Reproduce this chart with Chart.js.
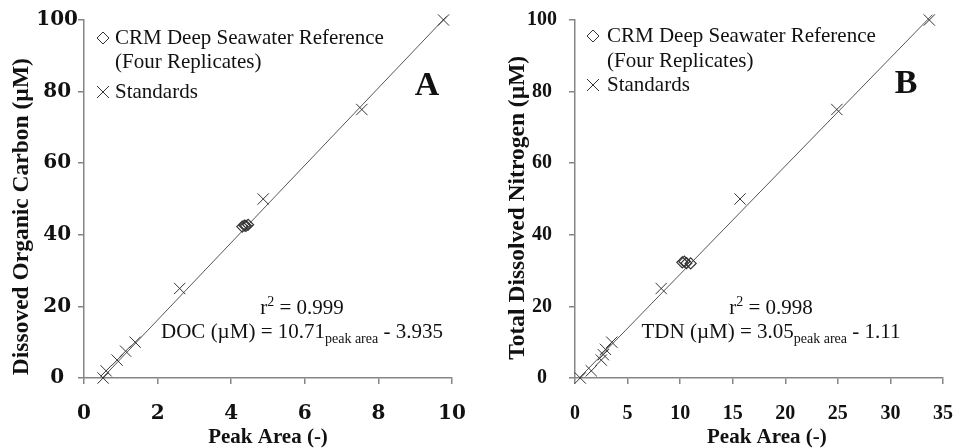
<!DOCTYPE html>
<html><head><meta charset="utf-8">
<script src="https://cdn.jsdelivr.net/npm/chart.js@4"></script>
<style>
html,body{margin:0;padding:0;background:#fff;}
#wrap{position:relative;width:955px;height:448px;overflow:hidden;}
#c1{position:absolute;left:0;top:0;}
#c2{position:absolute;left:475px;top:0;}
</style></head><body>
<div id="wrap"><canvas id="c1" width="475" height="448"></canvas><canvas id="c2" width="480" height="448"></canvas></div>
<script>
// ---------- DATA ----------
const yTicks = [0, 20, 40, 60, 80, 100];
const docXTicks = [0, 2, 4, 6, 8, 10];
const tdnXTicks = [0, 5, 10, 15, 20, 25, 30, 35];

// Panel A (DOC)
const docStdX = [0.52, 0.60, 0.90, 1.13, 1.39, 2.60, 4.87, 7.55, 9.77];
const docStdY = [0, 2, 5, 7.5, 10, 25, 50, 75, 100];
const docCrmX = [4.30, 4.36, 4.40, 4.46];
const docCrmY = [42.3, 42.6, 42.5, 42.8];
const docFitX = [0.50, 9.85];
const docFitY = [0, 101];

// Panel B (TDN)
const tdnStdX = [0.5, 1.55, 2.5, 2.7, 2.9, 3.5, 8.2, 15.7, 24.9, 33.7];
const tdnStdY = [0, 2, 5, 6.5, 8, 10, 25, 50, 75, 100];
const tdnCrmX = [10.2, 10.4, 10.6, 11.0];
const tdnCrmY = [32.3, 32.5, 32.1, 32.0];
const tdnFitX = [0.40, 34.0];
const tdnFitY = [0, 101.5];

const legendLabels = ['CRM Deep Seawater Reference', '(Four Replicates)', 'Standards'];
const NB = '\u00A0';

// ---------- HELPERS ----------
const pts = (xs, ys) => xs.map((x, i) => ({x: x, y: ys[i]}));
const SERIF = "'Liberation Serif', 'Times New Roman', serif";

function drawRuns(ctx, runs, cx, baseline) {
  let total = 0;
  runs.forEach(r => { ctx.font = r.s + 'px ' + SERIF; r.w = ctx.measureText(r.t).width; total += r.w; });
  let x = cx - total / 2;
  ctx.textAlign = 'left';
  ctx.textBaseline = 'alphabetic';
  runs.forEach(r => {
    ctx.font = r.s + 'px ' + SERIF;
    ctx.fillStyle = '#111';
    ctx.fillText(r.t, x, baseline + (r.dy || 0));
    x += r.w;
  });
}

function annotPlugin(a) {
  return {
    id: 'annot',
    afterDraw(chart) {
      const ctx = chart.ctx;
      ctx.save();
      ctx.strokeStyle = '#333';
      ctx.lineWidth = 1;
      const d = 6;
      ctx.beginPath();
      ctx.moveTo(a.symX, a.rows[0] - d); ctx.lineTo(a.symX + d, a.rows[0]);
      ctx.lineTo(a.symX, a.rows[0] + d); ctx.lineTo(a.symX - d, a.rows[0]); ctx.closePath();
      ctx.stroke();
      ctx.beginPath();
      ctx.moveTo(a.symX - d, a.rows[2] - d); ctx.lineTo(a.symX + d, a.rows[2] + d);
      ctx.moveTo(a.symX + d, a.rows[2] - d); ctx.lineTo(a.symX - d, a.rows[2] + d);
      ctx.stroke();
      ctx.fillStyle = '#111';
      ctx.font = '21px ' + SERIF;
      ctx.textAlign = 'left';
      ctx.textBaseline = 'middle';
      legendLabels.forEach((t, i) => ctx.fillText(t, a.textX, a.rows[i]));
      ctx.font = 'bold 34px ' + SERIF;
      ctx.textAlign = 'center';
      ctx.fillText(a.letter, a.letterX, a.letterY);
      drawRuns(ctx, [{t: 'r', s: 21}, {t: '2', s: 14, dy: -8}, {t: ' = ' + a.r2, s: 21}], a.eqX, 314);
      drawRuns(ctx, [{t: a.eqLeft, s: 21}, {t: 'peak area', s: 14, dy: 5}, {t: a.eqRight, s: 21}], a.eqX, 338);
      ctx.restore();
    }
  };
}

function makeChart(id, o) {
  return new Chart(document.getElementById(id), {
    type: 'scatter',
    data: {
      datasets: [
        {label: 'fit', type: 'line', data: pts(o.fitX, o.fitY), borderColor: '#555', borderWidth: 1,
         pointRadius: 0, fill: false, clip: false, order: 3},
        {label: 'CRM Deep Seawater Reference (Four Replicates)', data: pts(o.crmX, o.crmY),
         pointStyle: 'rectRot', pointRadius: 5.5, pointBorderColor: '#333', pointBackgroundColor: 'rgba(0,0,0,0)',
         pointBorderWidth: 1.2, clip: false, order: 1},
        {label: 'Standards', data: pts(o.stdX, o.stdY),
         pointStyle: 'crossRot', pointRadius: 8, pointBorderColor: '#333', pointBorderWidth: 1, clip: false, order: 2}
      ]
    },
    options: {
      responsive: false,
      animation: false,
      devicePixelRatio: 1,
      layout: {padding: {left: 0, top: 20, right: o.padRight, bottom: 0}},
      plugins: {legend: {display: false}, tooltip: {enabled: false}},
      scales: {
        x: {
          type: 'linear', min: o.xTicks[0], max: o.xTicks[o.xTicks.length - 1],
          afterBuildTicks: s => { s.ticks = o.xTicks.map(v => ({value: v})); },
          afterFit: s => { s.height = 70; s.paddingLeft = 0; s.paddingRight = 0; },
          grid: {display: true, drawOnChartArea: false, drawTicks: true, tickLength: 6, color: '#858585', lineWidth: 1.5},
          border: {display: true, color: '#858585', width: 1.5},
          ticks: {color: '#111', padding: 18, maxRotation: 0, font: o.tickFont},
          title: {display: true, text: o.xTitle, color: '#111', padding: {top: 0, bottom: 0},
                  font: {family: SERIF, size: 21, weight: 'bold', lineHeight: 1}}
        },
        y: {
          type: 'linear', min: 0, max: 100,
          afterBuildTicks: s => { s.ticks = yTicks.map(v => ({value: v})); },
          afterFit: s => { s.width = o.yWidth; s.paddingTop = 0; s.paddingBottom = 0; },
          grid: {display: true, drawOnChartArea: false, drawTicks: true, tickLength: 6, color: '#858585', lineWidth: 1.5},
          border: {display: true, color: '#858585', width: 1.5},
          ticks: {color: '#111', padding: o.yPad, crossAlign: 'center', font: o.tickFont},
          title: {display: true, text: o.yTitle, color: '#111', padding: {top: o.yTitlePad, bottom: 0},
                  font: {family: SERIF, size: 23.5, weight: 'bold', lineHeight: 1}}
        }
      }
    },
    plugins: [annotPlugin(o.annot)]
  });
}

makeChart('c1', {
  stdX: docStdX, stdY: docStdY, crmX: docCrmX, crmY: docCrmY, fitX: docFitX, fitY: docFitY,
  xTicks: docXTicks, padRight: 23, yWidth: 84, yPad: 0, yTitlePad: 10,
  tickFont: {family: "'DejaVu Serif', serif", size: 20, weight: 'bold'},
  xTitle: 'Peak Area (-)',
  yTitle: 'Dissoved Organic Carbon (µM)' + NB.repeat(6),
  annot: {symX: 103, textX: 115, rows: [38, 62, 92], letter: 'A', letterX: 427, letterY: 86,
          r2: '0.999', eqX: 302, eqLeft: 'DOC (µM) = 10.71', eqRight: ' - 3.935'}
});

makeChart('c2', {
  stdX: tdnStdX, stdY: tdnStdY, crmX: tdnCrmX, crmY: tdnCrmY, fitX: tdnFitX, fitY: tdnFitY,
  xTicks: tdnXTicks, padRight: 12, yWidth: 100, yPad: 12, yTitlePad: 31,
  tickFont: {family: SERIF, size: 20, weight: 'bold'},
  xTitle: NB.repeat(3) + 'Peak Area (-)',
  yTitle: 'Total Dissolved Nitrogen (µM)' + NB.repeat(3),
  annot: {symX: 118, textX: 132, rows: [36, 61, 85], letter: 'B', letterX: 431, letterY: 84,
          r2: '0.998', eqX: 296, eqLeft: 'TDN (µM) = 3.05', eqRight: ' - 1.11'}
});
</script>
</body></html>
